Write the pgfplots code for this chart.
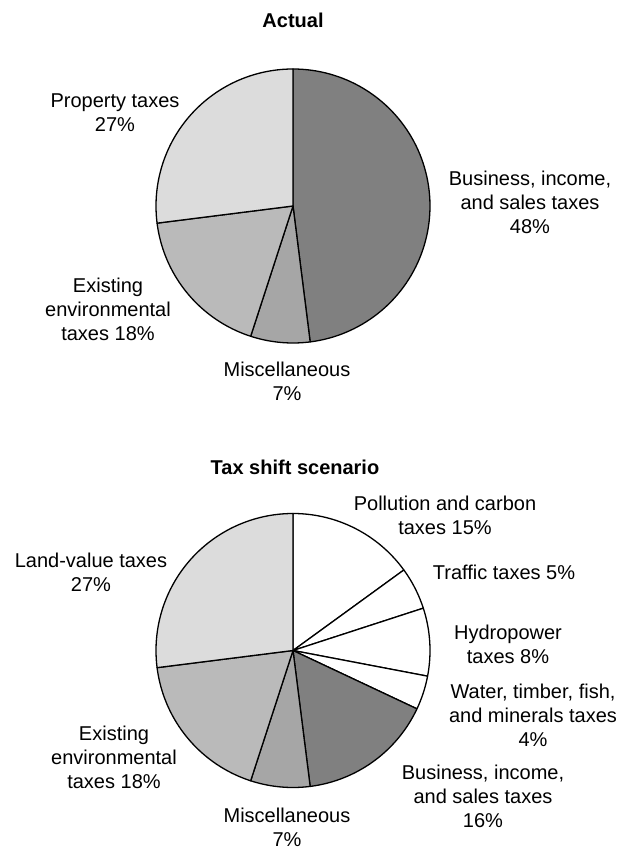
\documentclass[border=0pt]{standalone}
\usepackage{fontspec}
\setmainfont{Liberation Sans}
\usepackage{pgfplots}
\pgfplotsset{compat=1.18}
\usepgfplotslibrary{polar}
\definecolor{cbus}{RGB}{128,128,128}
\definecolor{cmisc}{RGB}{166,166,166}
\definecolor{cenv}{RGB}{186,186,186}
\definecolor{cprop}{RGB}{220,220,220}
% slice: #1 cumulative start (%), #2 cumulative end (%), #3 colour
\newcommand{\slice}[3]{%
  \pgfmathsetmacro{\angA}{90-3.6*#2}%
  \pgfmathsetmacro{\angB}{90-3.6*#1}%
  \addplot[fill=#3, draw=black, line width=1.3pt, line join=round, domain=\angA:\angB, samples=90] {1} -- (axis cs:0,0) -- cycle;
}
\pgfplotsset{pie/.style={hide axis, scale only axis, width=274pt, height=274pt,
  xmin=0, xmax=360, ymin=0, ymax=1, clip=false, anchor=center}}
\newcommand{\lbl}{\fontsize{20}{24}\selectfont}
\begin{document}
\begin{tikzpicture}[x=1pt,y=1pt]
\useasboundingbox (0,0) rectangle (622,850);
% ---------- Actual ----------
\begin{polaraxis}[pie, at={(293pt,644pt)}]
  \slice{0}{48}{cbus}    % Business, income, and sales taxes 48
  \slice{48}{55}{cmisc}  % Miscellaneous 7
  \slice{55}{73}{cenv}   % Existing environmental taxes 18
  \slice{73}{100}{cprop} % Property taxes 27
\end{polaraxis}
% ---------- Tax shift scenario ----------
\begin{polaraxis}[pie, at={(293pt,199.5pt)}]
  \slice{0}{15}{white}   % Pollution and carbon 15
  \slice{15}{20}{white}  % Traffic 5
  \slice{20}{28}{white}  % Hydropower 8
  \slice{28}{32}{white}  % Water, timber, fish, minerals 4
  \slice{32}{48}{cbus}   % Business, income, sales 16
  \slice{48}{55}{cmisc}  % Miscellaneous 7
  \slice{55}{73}{cenv}   % Existing environmental 18
  \slice{73}{100}{cprop} % Land-value 27
\end{polaraxis}
\begin{scope}[every node/.style={align=center, inner sep=0pt, font=\lbl}]
\node[font=\lbl\bfseries] at (293,830) {Actual};
\node at (115,737.5) {Property taxes\\27\%};
\node at (530,648) {Business, income,\\and sales taxes\\48\%};
\node at (108,541) {Existing\\environmental\\taxes 18\%};
\node at (287,468.5) {Miscellaneous\\7\%};
\node[font=\lbl\bfseries] at (295,383) {Tax shift scenario};
\node at (445,335) {Pollution and carbon\\taxes 15\%};
\node at (504,278) {Traffic taxes 5\%};
\node at (91,277.5) {Land-value taxes\\27\%};
\node at (508,205.5) {Hydropower\\taxes 8\%};
\node at (533,135) {Water, timber, fish,\\and minerals taxes\\4\%};
\node at (483,54) {Business, income,\\and sales taxes\\16\%};
\node at (114,92.5) {Existing\\environmental\\taxes 18\%};
\node at (287,22.5) {Miscellaneous\\7\%};
\end{scope}
\end{tikzpicture}
\end{document}
